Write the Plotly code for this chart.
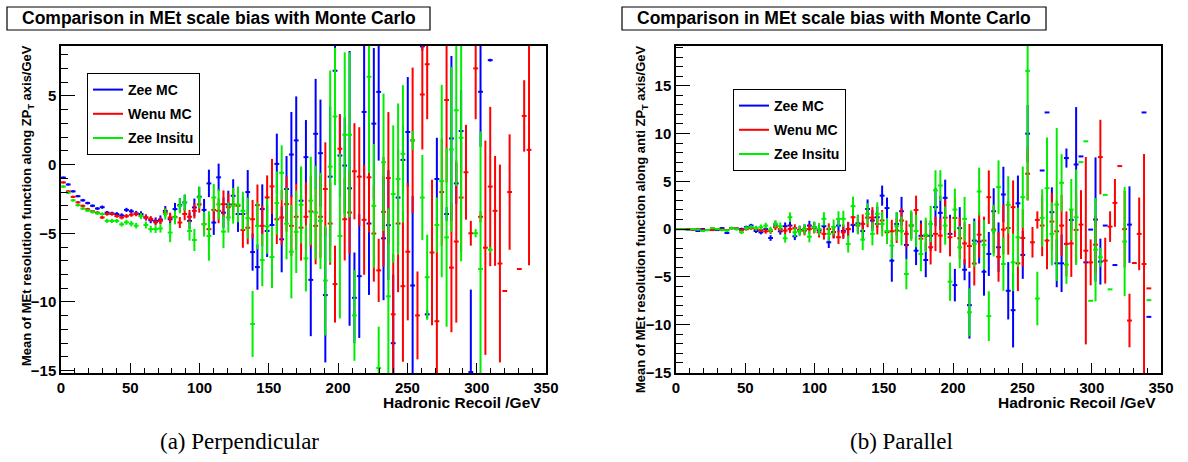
import plotly.graph_objects as go

# ---------------- binning (100 bins of 3.5 GeV, 0..350 GeV) ----------------
N_BINS = 100
BIN_W = 3.5
centers = [BIN_W * (i + 0.5) for i in range(N_BINS)]
N = None

# ---------------- (a) Perpendicular ----------------
perp_zee_mc = [-0.95,-1.45,-1.95,-2.3,-2.6,-2.8,-3.0,-3.2,-3.1,-3.5,
 -3.55,-3.6,-3.7,-3.3,-3.4,-3.55,-3.6,-3.85,-4.05,-4.1,
 -4.0,-3.37,-3.98,-3.24,-2.95,-2.76,-4.1,-3.12,-2.34,-3.3,
 -1.37,-4.22,-0.93,-3.5,-2.9,-2.27,-3.6,-3.6,-2.0,-6.37,
 -7.46,-3.24,-4.83,-4.4,0.05,-5.44,-1.78,0.73,1.76,-2.63,
 0.54,-8.39,2.24,0.83,-9.5,-0.88,6.83,0.66,-0.07,-1.73,
 -9.7,-8.12,3.83,-4.29,2.98,5.29,-5.37,-4.41,-13.0,-2.4,
 0.34,2.37,-8.8,N,8.6,-10.9,N,-1.05,N,-3.6,
 1.9,-1.37,2.44,N,-15.1,N,5.3,N,7.6,N,
 N,N,N,N,N,N,N,N,N,N]
perp_zee_mc_err = [0.08,0.08,0.08,0.08,0.1,0.1,0.1,0.1,0.12,0.12,
 0.12,0.14,0.15,0.15,0.16,0.18,0.2,0.22,0.22,0.25,
 0.3,0.35,0.4,0.45,0.5,0.55,0.6,0.65,0.7,0.8,
 1.0,0.9,1.0,1.1,1.0,1.2,1.3,1.2,1.6,1.35,
 1.65,1.8,1.9,2.0,2.2,2.4,2.4,3.1,3.2,2.4,
 2.7,4.1,4.0,3.9,4.9,5.1,3.4,3.0,3.5,10.0,
 3.3,4.5,4.8,5.2,5.5,5.0,4.5,4.0,5.0,3.5,
 2.5,4.0,6.5,0,0.3,0.3,0,3.0,0,0.5,
 6.0,1.5,3.0,0,6.0,0,4.0,0,0.1,0,
 0,0,0,0,0,0,0,0,0,0]

perp_wenu_mc = [-1.3,-1.95,-2.35,-2.75,-3.0,-3.25,-3.4,-3.5,-3.85,-3.6,
 -3.6,-3.75,-3.85,-3.75,-3.65,-3.6,-3.75,-3.85,-3.95,-4.2,
 -4.1,-3.49,-3.85,-3.8,-4.22,-3.6,-3.8,-3.37,-2.9,-4.34,
 -4.7,-3.3,-3.37,-2.88,-3.1,-2.9,-3.0,-4.76,-4.6,-3.98,
 -2.95,-4.46,-2.39,-1.59,-3.98,-3.85,-2.88,-4.46,-3.8,-4.59,
 -3.8,-3.41,-4.46,-3.8,-1.78,-4.29,-8.7,1.15,-3.98,-3.49,
 -0.49,-0.88,-4.02,-0.93,-5.02,-7.7,-3.44,-0.98,-10.9,-4.29,
 -8.85,-6.34,1.76,-10.98,5.1,7.3,-6.4,-11.4,-2.0,4.7,
 -7.5,-5.6,-2.4,-0.56,-5.0,7.0,-3.8,-6.05,-1.6,-3.37,
 -7.2,-9.2,-2.0,N,-7.6,3.54,1.07,N,N,N]
perp_wenu_mc_err = [0.08,0.08,0.08,0.08,0.08,0.1,0.1,0.1,0.1,0.12,
 0.12,0.12,0.14,0.15,0.15,0.16,0.18,0.2,0.2,0.22,
 0.25,0.3,0.35,0.4,0.4,0.45,0.5,0.55,0.6,0.7,
 1.0,0.8,0.9,1.0,1.0,1.1,1.1,1.3,1.2,1.4,
 1.5,1.5,1.6,2.0,1.8,2.0,2.0,2.2,2.4,2.4,
 2.5,2.6,2.8,3.0,3.4,3.0,2.8,2.5,3.0,3.0,
 3.5,3.6,4.0,4.0,3.5,2.3,4.0,4.8,4.4,5.0,
 5.5,5.0,5.3,3.2,4.0,4.0,5.3,7.5,3.9,6.0,
 4.7,5.9,4.0,3.45,0.9,3.7,0.4,7.8,5.8,4.0,
 7.2,0,4.2,0,0,2.6,8.4,0,0,0]

perp_zee_insitu = [-1.6,-2.05,-2.6,-2.95,-3.2,-3.35,-3.45,-3.55,-3.6,-4.1,
 -4.1,-4.1,-4.35,-4.2,-4.3,-4.45,-3.75,-4.4,-4.7,-4.7,
 -4.65,-3.6,-4.95,-3.85,-3.0,-2.76,-4.83,-5.49,-2.39,-4.34,
 -5.2,-2.4,-2.9,-4.88,-3.85,-3.0,-2.9,-3.37,-3.9,-11.6,
 -4.46,-6.95,-4.5,-6.73,-2.8,-0.6,-4.3,-6.34,-4.9,-2.93,
 -6.83,-2.63,-3.49,-4.1,-8.44,-0.15,3.5,-5.2,2.17,2.17,
 -10.98,N,N,6.39,-3.0,-14.8,0.17,-9.59,-2.15,-1.05,
 0.78,N,1.76,N,-2.4,-8.2,N,-4.4,-1.2,-5.3,
 1.1,3.95,1.95,N,N,-5.0,-7.6,N,-6.2,N,
 N,N,N,N,N,N,N,N,N,N]
perp_zee_insitu_err = [0.1,0.1,0.1,0.1,0.1,0.1,0.12,0.12,0.12,0.14,
 0.15,0.15,0.16,0.18,0.2,0.2,0.22,0.25,0.25,0.28,
 0.3,0.4,0.7,0.5,0.55,0.6,0.7,0.8,0.8,0.9,
 1.8,1.0,1.1,1.2,1.1,1.3,1.3,1.4,1.5,2.4,
 1.7,1.9,2.0,2.25,2.3,2.0,2.6,3.4,3.0,2.8,
 2.4,3.2,3.4,3.5,4.0,7.0,5.0,6.0,6.0,6.0,
 3.3,0,0,7.0,4.5,3.0,5.0,6.4,5.0,5.5,
 5.0,0,0.7,0,3.1,3.1,0,2.0,7.0,6.5,
 6.0,5.5,9.0,0,0,0.3,10.0,0,0.2,0,
 0,0,0,0,0,0,0,0,0,0]

# ---------------- (b) Parallel ----------------
par_zee_mc = [0.0,0.0,-0.05,-0.05,-0.2,0.0,-0.1,0.05,-0.1,0.1,
 -0.4,0.1,0.05,0.0,0.2,0.37,-0.2,-0.33,0.0,-0.93,
 0.47,-0.23,0.3,0.37,-0.75,-0.1,0.0,0.37,0.2,-0.1,
 0.3,-1.38,-0.3,0.37,-0.2,0.0,0.44,0.6,-0.2,2.1,
 0.9,1.24,3.5,2.2,-3.3,0.54,1.87,-1.66,0.37,-2.26,
 -0.7,-3.23,-0.7,2.3,1.7,3.27,-0.5,-5.86,0.1,-4.25,
 -7.95,-1.2,-1.3,-4.46,-2.6,1.87,-1.9,3.62,-6.45,-8.48,
 2.7,-2.7,9.98,N,N,6.13,12.2,1.77,-3.58,-3.58,
 7.43,0.96,6.76,7.6,-3.48,-0.05,1.0,-3.4,0.37,N,
 -3.76,N,N,0.47,N,N,12.2,-9.18,N,N]
par_zee_mc_err = [0.05,0.05,0.05,0.06,0.07,0.08,0.08,0.1,0.1,0.1,
 0.12,0.12,0.14,0.15,0.16,0.18,0.2,0.22,0.25,0.3,
 0.35,0.35,0.4,0.45,0.4,0.45,0.5,0.5,0.55,0.55,
 0.6,0.6,0.65,0.7,0.7,0.75,0.8,0.9,1.0,1.0,
 1.1,1.1,1.05,1.1,2.2,1.2,1.5,1.5,1.4,1.5,
 1.6,1.8,1.6,2.0,1.8,1.9,2.0,1.7,2.2,1.1,
 3.5,2.3,2.3,2.5,2.3,2.4,2.6,2.9,3.0,3.9,
 2.9,2.5,3.0,0,0,0,0,2.6,2.5,3.0,
 1.0,1.1,6.0,0,0,0,6.5,2.4,0,0,
 0,0,0,4.0,0,0,0,0,0,0]

par_wenu_mc = [0.0,0.0,0.0,-0.05,0.0,-0.1,-0.1,-0.1,0.0,-0.05,
 -0.1,0.1,0.05,-0.1,0.0,0.1,0.0,-0.1,-0.23,-0.2,
 0.2,0.0,-0.16,0.0,0.1,-0.16,-0.15,0.0,0.1,-0.33,
 -0.5,0.0,-0.33,-0.85,-0.33,0.0,1.24,0.37,0.54,1.2,
 1.2,0.54,0.9,-0.33,-0.23,-0.15,0.9,-0.5,0.37,2.0,
 -1.0,-0.7,-1.9,-0.5,-0.68,1.2,-0.85,1.17,-0.96,-1.5,
 -1.77,-3.6,-0.58,-1.2,3.34,-0.05,-2.9,-0.05,0.12,2.29,
 -3.58,-0.93,5.79,-1.38,0.96,0.37,-1.2,0.79,-0.23,0.37,
 -1.55,-1.5,-0.08,0.47,-2.26,-3.48,-1.63,7.53,-3.3,0.26,
 2.74,6.59,0.0,-9.56,-3.55,-0.5,-3.65,-6.2,N,N]
par_wenu_mc_err = [0.05,0.05,0.05,0.06,0.07,0.08,0.08,0.1,0.1,0.1,
 0.12,0.12,0.14,0.15,0.16,0.18,0.2,0.22,0.25,0.3,
 0.3,0.35,0.4,0.4,0.4,0.45,0.5,0.5,0.55,0.55,
 0.6,0.6,0.65,0.7,0.7,0.75,0.8,0.9,1.0,1.0,
 1.1,1.1,1.1,1.2,1.2,1.3,1.3,1.4,1.4,1.5,
 1.6,1.6,1.8,1.8,1.8,1.9,2.0,2.0,2.2,2.2,
 2.3,2.3,2.4,2.5,2.8,2.5,2.6,2.6,2.8,2.8,
 2.9,3.0,2.8,1.6,0.9,3.2,3.0,3.0,3.2,3.2,
 3.4,3.5,3.5,3.6,9.8,2.4,3.0,3.9,2.4,1.6,
 2.5,0,4.0,2.8,0,3.8,11.5,0,0,0]

par_zee_insitu = [0.0,0.0,-0.05,0.0,-0.05,-0.2,-0.1,0.1,0.0,-0.1,
 -0.15,0.1,0.0,-0.33,0.1,0.2,0.1,0.2,0.37,-0.1,
 0.54,0.3,-0.96,1.24,-0.33,-0.2,0.0,-0.79,0.2,0.0,
 1.07,-0.5,0.2,1.07,1.07,-1.55,2.4,0.47,-1.1,1.6,
 -0.5,1.6,0.54,-0.2,-1.73,0.3,-0.2,-4.7,0.37,-0.2,
 -2.6,-0.6,0.54,4.05,4.56,0.37,-5.5,2.04,-1.9,1.07,
 -8.7,-1.55,3.93,-1.65,-9.1,-0.16,4.39,-3.65,2.53,-3.48,
 -0.86,3.34,16.55,N,-7.26,1.17,4.28,-0.5,2.57,4.84,
 -3.72,2.04,1.24,7.0,9.18,-7.5,-2.15,-2.95,3.58,-6.3,
 N,N,-1.3,N,N,N,N,-7.43,N,N]
par_zee_insitu_err = [0.06,0.06,0.06,0.07,0.08,0.09,0.1,0.1,0.12,0.12,
 0.14,0.15,0.16,0.18,0.2,0.22,0.25,0.28,0.3,0.35,
 0.4,0.4,0.45,0.5,0.5,0.55,0.55,0.6,0.6,0.65,
 0.7,0.75,0.8,0.8,0.85,0.9,1.0,1.0,1.1,1.1,
 1.2,1.2,1.3,1.3,1.4,1.5,1.5,1.6,1.6,1.7,
 1.8,1.8,1.9,2.1,1.6,2.0,2.0,2.2,2.2,2.3,
 2.5,2.4,2.5,2.6,2.6,2.7,2.8,2.8,3.0,3.0,
 3.1,3.2,13.5,0,2.8,3.0,5.3,3.3,8.0,3.0,
 2.0,3.2,5.0,0,0,0,5.4,1.0,0,0,
 0,0,5.7,0,0,0,0,0,0,0]

series_names = ["Zee MC", "Wenu MC", "Zee Insitu"]
series_colors = ["#0000ff", "#ff0000", "#00ee00"]
perp_values = [perp_zee_mc, perp_wenu_mc, perp_zee_insitu]
perp_errors = [perp_zee_mc_err, perp_wenu_mc_err, perp_zee_insitu_err]
par_values = [par_zee_mc, par_wenu_mc, par_zee_insitu]
par_errors = [par_zee_mc_err, par_wenu_mc_err, par_zee_insitu_err]

title_text = "Comparison in MEt scale bias with Monte Carlo"
x_title = "Hadronic Recoil /GeV"
y_title_perp = "Mean of MEt resolution function along ZP<sub>T</sub> axis/GeV"
y_title_par = "Mean of MEt resolution function along anti ZP<sub>T</sub> axis/GeV"
captions = ["(a) Perpendicular", "(b) Parallel"]

# ---------------- figure ----------------
W, H = 1188, 462
SANS = "Liberation Sans, Arial, Helvetica, sans-serif"
SERIF = "Liberation Serif, DejaVu Serif, serif"


def px(xp):
    return xp / W


def py(yp):
    return 1 - yp / H


fig = go.Figure()

panels = [
    ("x", "y", "legend", perp_values, perp_errors),
    ("x2", "y2", "legend2", par_values, par_errors),
]
for xa, ya, lg, vals, errs in panels:
    for name, col, v, e in zip(series_names, series_colors, vals, errs):
        fig.add_trace(go.Scatter(
            x=centers, y=v, mode="markers", xaxis=xa, yaxis=ya,
            marker=dict(size=1, color=col),
            error_y=dict(type="data", array=e, width=0, thickness=2, color=col),
            error_x=dict(type="constant", value=BIN_W / 2, width=0, thickness=2, color=col),
            showlegend=False, hoverinfo="x+y",
        ))
    for k, (name, col) in enumerate(zip(series_names, series_colors)):
        fig.add_trace(go.Scatter(
            x=[None], y=[None], mode="lines", xaxis=xa, yaxis=ya,
            line=dict(color=col, width=2), name=name, legend=lg,
            legendgroup=f"{lg}_{k}", showlegend=True,
        ))

tickfont = dict(family=SANS, size=15, color="black", weight="bold")
common_x = dict(range=[0, 350], showline=True, linecolor="black", linewidth=1.5,
                mirror=True, ticks="inside", ticklen=10, tickwidth=1.2, tickcolor="black",
                dtick=50, tick0=0, showgrid=False, zeroline=False, tickfont=tickfont,
                minor=dict(ticks="inside", ticklen=5, dtick=10, tickcolor="black", tickwidth=1.2),
                automargin=False, fixedrange=True)
common_y = dict(showline=True, linecolor="black", linewidth=1.5, mirror=True,
                ticks="inside", ticklen=14, tickwidth=1.2, tickcolor="black",
                dtick=5, tick0=0, showgrid=False, zeroline=False, tickfont=tickfont,
                minor=dict(ticks="inside", ticklen=7, dtick=1, tickcolor="black", tickwidth=1.2),
                automargin=False, fixedrange=True)

ydom = [py(373), py(46)]
fig.update_layout(
    template="none",
    width=W, height=H, autosize=False,
    margin=dict(l=0, r=0, t=0, b=0),
    paper_bgcolor="white", plot_bgcolor="white",
    xaxis=dict(domain=[px(61), px(546)], anchor="y", **common_x),
    yaxis=dict(domain=ydom, anchor="x", range=[-15.17, 8.63], **common_y),
    xaxis2=dict(domain=[px(676), px(1161)], anchor="y2", **common_x),
    yaxis2=dict(domain=ydom, anchor="x2", range=[-15.05, 19.15], **common_y),
    legend=dict(x=px(87), y=py(73), xanchor="left", yanchor="top",
                bgcolor="white", bordercolor="black", borderwidth=1,
                font=dict(family=SANS, size=14, color="black", weight="bold"),
                tracegroupgap=3, traceorder="grouped"),
    legend2=dict(x=px(733), y=py(89), xanchor="left", yanchor="top",
                 bgcolor="white", bordercolor="black", borderwidth=1,
                 font=dict(family=SANS, size=14, color="black", weight="bold"),
                 tracegroupgap=3, traceorder="grouped"),
    showlegend=True,
)

shapes = []
annotations = []
# title boxes
for (x0, x1) in [(7, 430), (622, 1046)]:
    shapes.append(dict(type="rect", xref="paper", yref="paper",
                       x0=px(x0), x1=px(x1), y0=py(30), y1=py(7),
                       line=dict(color="black", width=1.2), fillcolor="white", layer="above"))
    annotations.append(dict(text=title_text, xref="paper", yref="paper",
                            x=px((x0 + x1) / 2), y=py(18.5), xanchor="center", yanchor="middle",
                            showarrow=False,
                            font=dict(family=SANS, size=17.5, color="black", weight="bold")))
# x-axis titles
for xr in [543, 1158]:
    annotations.append(dict(text=x_title, xref="paper", yref="paper",
                            x=px(xr), y=py(402), xanchor="right", yanchor="middle",
                            showarrow=False,
                            font=dict(family=SANS, size=15.5, color="black", weight="bold")))
# y-axis titles
for txt, xc, yc in [(y_title_perp, 27, 206), (y_title_par, 641, 219)]:
    annotations.append(dict(text=txt, xref="paper", yref="paper",
                            x=px(xc), y=py(yc), xanchor="center", yanchor="middle",
                            textangle=-90, showarrow=False,
                            font=dict(family=SANS, size=13, color="black", weight="bold")))
# captions
for txt, xl in [(captions[0], 158), (captions[1], 848)]:
    annotations.append(dict(text=txt, xref="paper", yref="paper",
                            x=px(xl), y=py(441), xanchor="left", yanchor="middle",
                            showarrow=False,
                            font=dict(family=SERIF, size=23, color="black")))

fig.update_layout(shapes=shapes, annotations=annotations)
fig.write_html("out.html",
               config={"displayModeBar": False},
               post_script="document.body.style.margin='0px';document.body.style.overflow='hidden';")
